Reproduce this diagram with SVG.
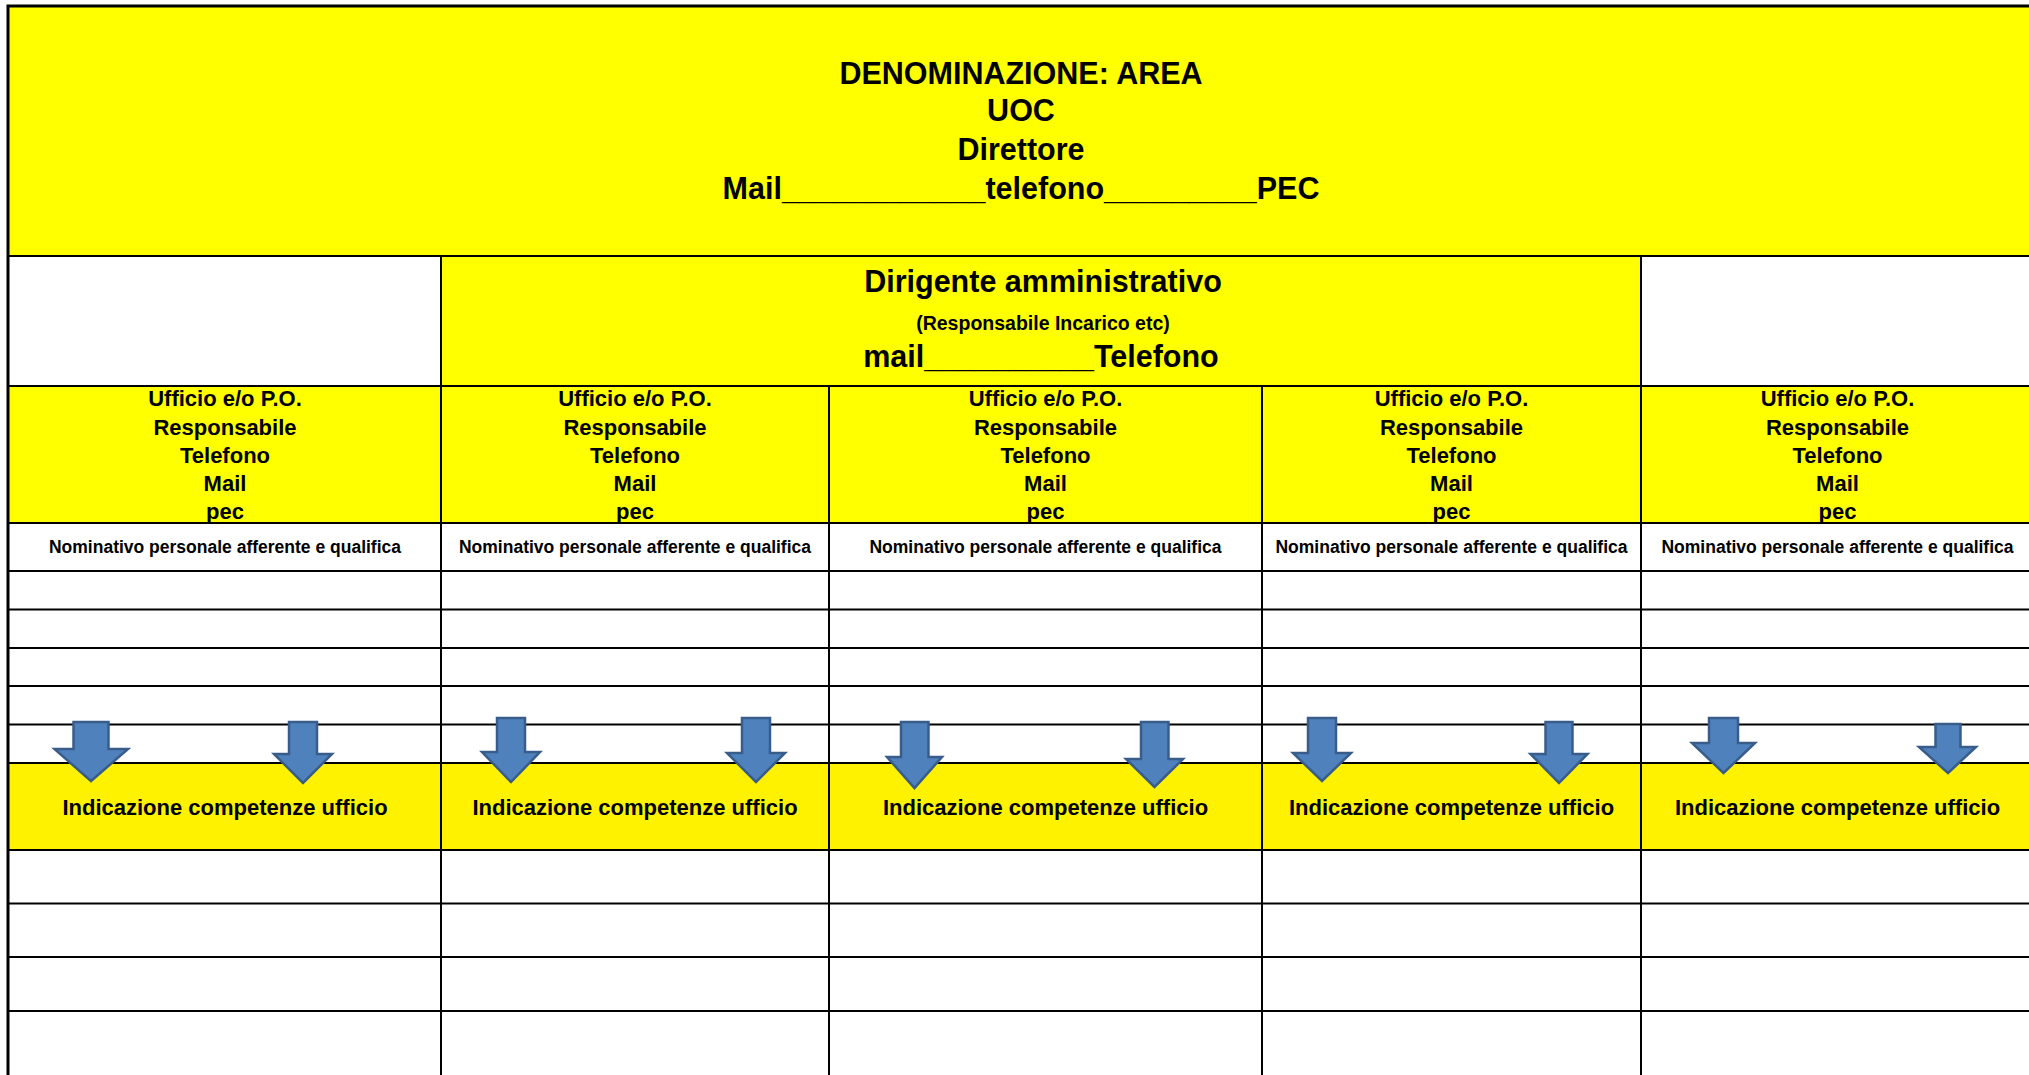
<svg xmlns="http://www.w3.org/2000/svg" width="2029" height="1075" viewBox="0 0 2029 1075">
<style>
text{font-family:"Liberation Sans",Arial,sans-serif;font-weight:bold;fill:#000;text-anchor:middle}
.big{font-size:30.5px}
.sm{font-size:19.5px}
.uf{font-size:22px}
.nom{font-size:17.5px}
.y{fill:#FFFF00}
.y2{fill:#FFF200}
.ln{stroke:#000;stroke-width:2;fill:none}
.ol{stroke:#000;stroke-width:3;fill:none}
.arr{fill:#4F81BD;stroke:#385D8A;stroke-width:2.5;stroke-linejoin:miter}
</style>
<rect x="0" y="0" width="2029" height="1075" fill="#fff"/>
<g id="fills">
<rect class="y" x="8" y="6" width="2030" height="250"/>
<rect class="y" x="441" y="256" width="1200" height="130"/>
<rect class="y" x="8" y="386" width="2030" height="137"/>
<rect class="y2" x="8" y="763" width="2030" height="87"/>
</g>
<g id="grid">
<path class="ol" d="M8,1080 V6 H2040"/>
<path class="ln" d="M8,256 H2040 M8,386 H2040 M8,523 H2040 M8,571 H2040 M8,609.5 H2040 M8,648 H2040 M8,686 H2040 M8,724.5 H2040 M8,763 H2040 M8,850 H2040 M8,903.5 H2040 M8,957 H2040 M8,1011 H2040"/>
<path class="ln" d="M441,256 V1080 M1641,256 V1080 M829,386 V1080 M1262,386 V1080"/>
</g>
<g id="header">
<text class="big" x="1021" y="84">DENOMINAZIONE: AREA</text>
<text class="big" x="1021" y="121">UOC</text>
<text class="big" x="1021" y="160">Direttore</text>
<text class="big" x="1021" y="199">Mail____________telefono_________PEC</text>
</g>
<g id="dirigente">
<text class="big" x="1043" y="292">Dirigente amministrativo</text>
<text class="sm" x="1043" y="330">(Responsabile Incarico etc)</text>
<text class="big" x="1041" y="367">mail__________Telefono</text>
</g>
<g id="ufficio-1">
<text class="uf" x="225" y="406">Ufficio e/o P.O.</text>
<text class="uf" x="225" y="435">Responsabile</text>
<text class="uf" x="225" y="463">Telefono</text>
<text class="uf" x="225" y="491">Mail</text>
<text class="uf" x="225" y="519">pec</text>
<text class="nom" x="225" y="553">Nominativo personale afferente e qualifica</text>
<text class="uf" x="225" y="815">Indicazione competenze ufficio</text>
</g>
<g id="ufficio-2">
<text class="uf" x="635" y="406">Ufficio e/o P.O.</text>
<text class="uf" x="635" y="435">Responsabile</text>
<text class="uf" x="635" y="463">Telefono</text>
<text class="uf" x="635" y="491">Mail</text>
<text class="uf" x="635" y="519">pec</text>
<text class="nom" x="635" y="553">Nominativo personale afferente e qualifica</text>
<text class="uf" x="635" y="815">Indicazione competenze ufficio</text>
</g>
<g id="ufficio-3">
<text class="uf" x="1045.5" y="406">Ufficio e/o P.O.</text>
<text class="uf" x="1045.5" y="435">Responsabile</text>
<text class="uf" x="1045.5" y="463">Telefono</text>
<text class="uf" x="1045.5" y="491">Mail</text>
<text class="uf" x="1045.5" y="519">pec</text>
<text class="nom" x="1045.5" y="553">Nominativo personale afferente e qualifica</text>
<text class="uf" x="1045.5" y="815">Indicazione competenze ufficio</text>
</g>
<g id="ufficio-4">
<text class="uf" x="1451.5" y="406">Ufficio e/o P.O.</text>
<text class="uf" x="1451.5" y="435">Responsabile</text>
<text class="uf" x="1451.5" y="463">Telefono</text>
<text class="uf" x="1451.5" y="491">Mail</text>
<text class="uf" x="1451.5" y="519">pec</text>
<text class="nom" x="1451.5" y="553">Nominativo personale afferente e qualifica</text>
<text class="uf" x="1451.5" y="815">Indicazione competenze ufficio</text>
</g>
<g id="ufficio-5">
<text class="uf" x="1837.5" y="406">Ufficio e/o P.O.</text>
<text class="uf" x="1837.5" y="435">Responsabile</text>
<text class="uf" x="1837.5" y="463">Telefono</text>
<text class="uf" x="1837.5" y="491">Mail</text>
<text class="uf" x="1837.5" y="519">pec</text>
<text class="nom" x="1837.5" y="553">Nominativo personale afferente e qualifica</text>
<text class="uf" x="1837.5" y="815">Indicazione competenze ufficio</text>
</g>
<g id="connectors">
<path class="arr" d="M73.5,722 H108.5 V749 H128 L91,781 L54.5,749 H73.5 Z"/>
<path class="arr" d="M289,722 H317 V754 H332 L303,783 L274,754 H289 Z"/>
<path class="arr" d="M497,718 H525 V752 H540 L511,782 L482,752 H497 Z"/>
<path class="arr" d="M742,718 H770 V753 H785 L756,782 L727,753 H742 Z"/>
<path class="arr" d="M901,722 H928.5 V757 H942 L914.5,788 L887,757 H901 Z"/>
<path class="arr" d="M1141,722 H1168.5 V759 H1183 L1154.5,787 L1126,759 H1141 Z"/>
<path class="arr" d="M1308,718 H1336 V753 H1351 L1322,781 L1293,753 H1308 Z"/>
<path class="arr" d="M1545.5,722 H1572.5 V754 H1587.5 L1559,783 L1530.5,754 H1545.5 Z"/>
<path class="arr" d="M1709,718 H1738 V743 H1755 L1723.5,773 L1692,743 H1709 Z"/>
<path class="arr" d="M1935.5,724 H1960.5 V747 H1976 L1948,773 L1919,747 H1935.5 Z"/>
</g>
</svg>
